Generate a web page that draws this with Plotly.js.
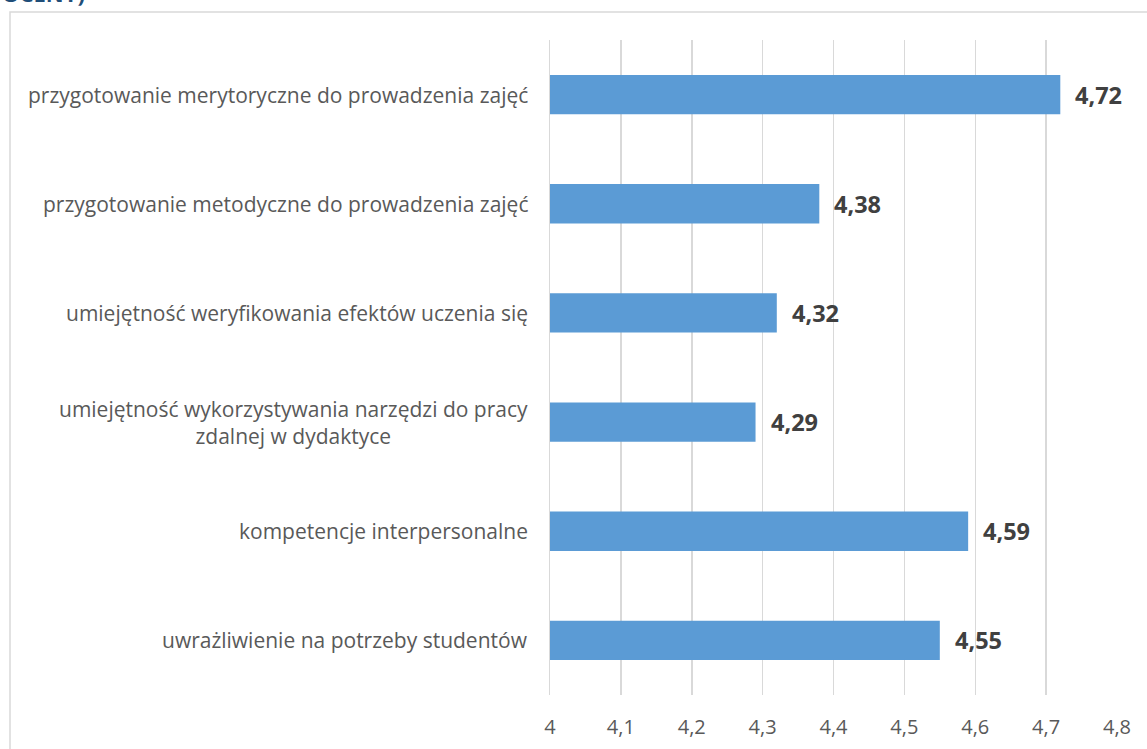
<!DOCTYPE html>
<html>
<head>
<meta charset="utf-8">
<script src="https://cdn.plot.ly/plotly-3.0.1.min.js"></script>
<style>html,body{margin:0;padding:0;background:#fff;}#chart{width:1147px;height:749px;}</style>
</head>
<body>
<div id="chart"></div>
<script>
const categories = [
  "przygotowanie merytoryczne do prowadzenia zajęć",
  "przygotowanie metodyczne do prowadzenia zajęć",
  "umiejętność weryfikowania efektów uczenia się",
  "umiejętność wykorzystywania narzędzi do pracy<br>zdalnej w dydaktyce",
  "kompetencje interpersonalne",
  "uwrażliwienie na potrzeby studentów"
];
const values = [4.72, 4.38, 4.32, 4.29, 4.59, 4.55];
const valueLabels = ["4,72", "4,38", "4,32", "4,29", "4,59", "4,55"];
const tickValues = [4, 4.1, 4.2, 4.3, 4.4, 4.5, 4.6, 4.7, 4.8];
const tickLabels = ["4", "4,1", "4,2", "4,3", "4,4", "4,5", "4,6", "4,7", "4,8"];
const titleFragment = "OCENY)";

const FONT = "Open Sans, Noto Sans, sans-serif";
const AXIS_MIN = 4;

const trace = {
  type: 'bar',
  orientation: 'h',
  y: categories,
  base: AXIS_MIN,
  x: values.map(v => v - AXIS_MIN),
  marker: {color: '#5B9BD5', line: {width: 0}},
  hoverinfo: 'none'
};

const annotations = [];
categories.forEach((c, i) => {
  annotations.push({
    xref: 'paper', yref: 'y', x: 0, y: c,
    xanchor: 'right', yanchor: 'middle', xshift: -20,
    text: c, showarrow: false, align: 'center',
    font: {family: FONT, size: 21, color: '#595959'}
  });
  annotations.push({
    xref: 'x', yref: 'y', x: values[i], y: c,
    xanchor: 'left', yanchor: 'middle', xshift: 13,
    text: '<b>' + valueLabels[i] + '</b>', showarrow: false,
    font: {family: FONT, size: 23.5, color: '#404040'}
  });
});
annotations.push({
  xref: 'paper', yref: 'paper', x: -0.97, y: (695 - 10) / 655,
  xanchor: 'left', yanchor: 'bottom',
  text: '<b>' + titleFragment + '</b>', showarrow: false,
  font: {family: FONT, size: 22, color: '#1F4E79'}
});

const layout = {
  width: 1147, height: 749,
  margin: {l: 550, r: 30, t: 40, b: 54, pad: 0},
  paper_bgcolor: '#ffffff', plot_bgcolor: '#ffffff',
  separators: ', ',
  showlegend: false,
  bargap: 0.64,
  xaxis: {
    range: [4, 4.8], tickvals: tickValues, ticktext: tickLabels,
    showgrid: true, gridcolor: '#D9D9D9', gridwidth: 1.5,
    zeroline: false, showline: false, ticks: '',
    ticklabelstandoff: 18,
    tickfont: {family: FONT, size: 20, color: '#595959'},
    fixedrange: true
  },
  yaxis: {
    type: 'category', categoryorder: 'array', categoryarray: categories,
    autorange: 'reversed', showticklabels: false, ticks: '',
    showgrid: false, zeroline: false,
    showline: true, linecolor: '#D9D9D9', linewidth: 1.5,
    fixedrange: true
  },
  annotations: annotations,
  shapes: [{
    type: 'rect', xref: 'paper', yref: 'paper',
    x0: (10 - 550) / 567, x1: (1160 - 550) / 567,
    y0: (695 - 760) / 655, y1: (695 - 12) / 655,
    line: {color: '#D9D9D9', width: 1.5}, fillcolor: 'rgba(0,0,0,0)', layer: 'below'
  }]
};

Plotly.newPlot('chart', [trace], layout, {displayModeBar: false, staticPlot: true});
</script>
</body>
</html>
